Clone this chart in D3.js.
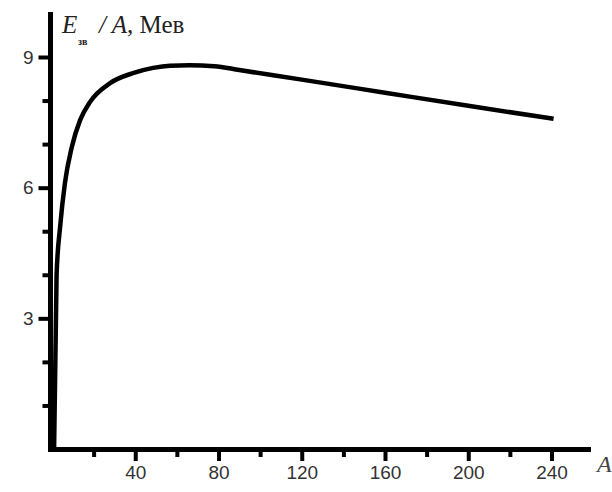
<!DOCTYPE html>
<html>
<head>
<meta charset="utf-8">
<script src="https://cdn.jsdelivr.net/npm/d3@7"></script>
<style>
  body { margin: 0; background: #fff; }
  svg { display: block; }
</style>
</head>
<body>
<div id="chart"></div>
<script>
// binding energy per nucleon
var massNumber = [1, 2.2, 3.9, 6.2, 9.5, 13.5, 18.3, 27.9, 38.9, 48.6, 56.7, 66, 78, 90, 120, 160, 200, 241];
var energyPerA = [0, 4.0, 5.1, 6.1, 6.93, 7.55, 7.97, 8.4, 8.63, 8.75, 8.8, 8.81, 8.79, 8.7, 8.48, 8.18, 7.88, 7.58];

var xMajor = [40, 80, 120, 160, 200, 240];
var xMinor = [20, 60, 100, 140, 180, 220];
var yMajor = [3, 6, 9];
var yMinor = [1, 2, 4, 5, 7, 8];

var width = 612, height = 492;

var x = d3.scaleLinear().domain([0, 240]).range([52, 551.5]);
var y = d3.scaleLinear().domain([0, 9]).range([449, 57]);

var svg = d3.select("#chart").append("svg")
    .attr("width", width)
    .attr("height", height);

function styleTicks(g) {
    g.select(".domain").remove();
    g.selectAll(".tick line").attr("stroke", "#000").attr("stroke-width", 4);
    g.selectAll(".tick text")
        .attr("font-family", "Liberation Sans, Arial, sans-serif")
        .attr("font-size", 19)
        .attr("fill", "#333");
}

// major ticks labelled, minor ones short
svg.append("g").attr("transform", "translate(0,451)")
    .call(d3.axisBottom(x).tickValues(xMajor).tickSize(10).tickPadding(5))
    .call(styleTicks);
svg.append("g").attr("transform", "translate(0,451)")
    .call(d3.axisBottom(x).tickValues(xMinor).tickSize(6).tickFormat(""))
    .call(styleTicks);

svg.append("g").attr("transform", "translate(48.5,0)")
    .call(d3.axisLeft(y).tickValues(yMajor).tickSize(10).tickPadding(5))
    .call(styleTicks);
svg.append("g").attr("transform", "translate(48.5,0)")
    .call(d3.axisLeft(y).tickValues(yMinor).tickSize(6).tickFormat(""))
    .call(styleTicks);

// axis lines
svg.append("line")
    .attr("x1", 50.5).attr("x2", 50.5)
    .attr("y1", 12).attr("y2", 452)
    .attr("stroke", "#000").attr("stroke-width", 5);
svg.append("line")
    .attr("x1", 48).attr("x2", 591)
    .attr("y1", 449.5).attr("y2", 449.5)
    .attr("stroke", "#000").attr("stroke-width", 5);

// the curve
var line = d3.line()
    .x(function (d, i) { return x(massNumber[i]); })
    .y(function (d) { return y(d); })
    .curve(d3.curveMonotoneX);

svg.append("path")
    .datum(energyPerA)
    .attr("d", line)
    .attr("fill", "none")
    .attr("stroke", "#000")
    .attr("stroke-width", 4.5)
    .attr("stroke-linejoin", "round");

// axis titles
var serif = "Liberation Serif, Times New Roman, serif";
svg.append("text")
    .attr("x", 62).attr("y", 33)
    .attr("font-family", serif).attr("font-size", 25)
    .attr("font-style", "italic").attr("fill", "#222")
    .text("E");
svg.append("text")
    .attr("x", 78).attr("y", 45)
    .attr("font-family", serif).attr("font-size", 10)
    .attr("font-weight", "bold").attr("fill", "#222")
    .text("зв");
var t = svg.append("text")
    .attr("x", 99).attr("y", 33)
    .attr("font-family", serif).attr("font-size", 25)
    .attr("fill", "#222");
t.append("tspan").attr("font-style", "italic").text("/ A");
t.append("tspan").text(", Мев");

svg.append("text")
    .attr("x", 597).attr("y", 472)
    .attr("font-family", serif).attr("font-size", 24)
    .attr("font-style", "italic").attr("fill", "#444")
    .text("A");
</script>
</body>
</html>
